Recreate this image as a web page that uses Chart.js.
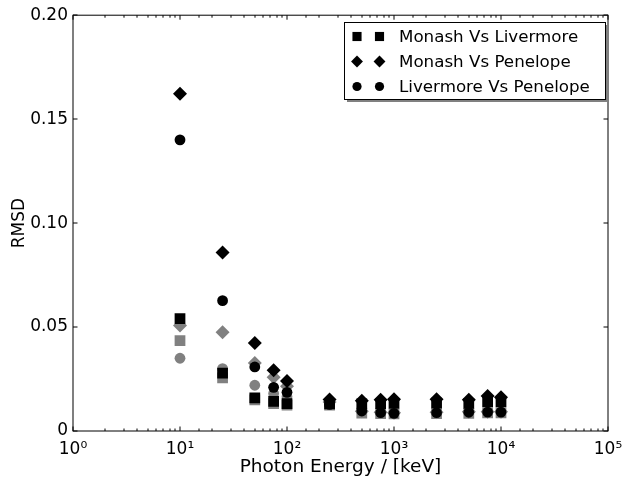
<!DOCTYPE html>
<html>
<head>
<meta charset="utf-8">
<script src="https://cdn.jsdelivr.net/npm/chart.js@4.4.0/dist/chart.umd.min.js"></script>
<style>
  html, body { margin: 0; padding: 0; background: #fff; }
  #wrap { width: 622px; height: 481px; position: relative; }
</style>
</head>
<body>
<div id="wrap"><canvas id="c"></canvas></div>
<script>
// ---- data ------------------------------------------------------------------
const FONT = '"DejaVu Sans", "Bitstream Vera Sans", sans-serif';

const energies = [10, 25, 50, 75, 100, 250, 500, 750, 1000, 2500, 5000, 7500, 10000];

// black markers (shown in legend)
const monashVsLivermore   = [0.0540, 0.0278, 0.0159, 0.0142, 0.0132, 0.0130, 0.0130, 0.0132, 0.0133, 0.0134, 0.0133, 0.0140, 0.0140];
const monashVsPenelope    = [0.1622, 0.0858, 0.0423, 0.0292, 0.0240, 0.0152, 0.0146, 0.0150, 0.0153, 0.0153, 0.0150, 0.0168, 0.0162];
const livermoreVsPenelope = [0.1400, 0.0627, 0.0308, 0.0210, 0.0186, 0.0128, 0.0096, 0.0088, 0.0085, 0.0088, 0.0090, 0.0091, 0.0091];

// gray markers (same comparisons, second set, not in legend)
const monashVsLivermoreGray   = [0.0435, 0.0255, 0.0150, 0.0132, 0.0125, 0.0125, 0.0086, 0.0084, 0.0082, 0.0084, 0.0085, 0.0087, 0.0087];
const monashVsPenelopeGray    = [0.0507, 0.0475, 0.0327, 0.0258, 0.0215, 0.0140, 0.0095, 0.0090, 0.0088, 0.0090, 0.0092, 0.0093, 0.0093];
const livermoreVsPenelopeGray = [0.0350, 0.0300, 0.0220, 0.0180, 0.0165, 0.0130, 0.0092, 0.0087, 0.0085, 0.0087, 0.0088, 0.0090, 0.0090];

const seriesLabels = ['Monash Vs Livermore', 'Monash Vs Penelope', 'Livermore Vs Penelope'];
const xTickLabels  = ['10⁰', '10¹', '10²', '10³', '10⁴', '10⁵'];
const yTickValues  = [0, 0.05, 0.10, 0.15, 0.20];
const yTickLabels  = ['0', '0.05', '0.10', '0.15', '0.20'];

// ---- styles ----------------------------------------------------------------
const BLACK = '#000000';
const GRAY  = 'rgb(128,128,128)';
const STYLES = [
  { style: 'rect',    radius: 7.6 },
  { style: 'rectRot', radius: 7 },
  { style: 'circle',  radius: 5.4 },
];

function pts(ys) { return energies.map((x, i) => ({ x, y: ys[i] })); }

function ds(label, ys, color, k, order) {
  return {
    label, data: pts(ys), showLine: false, order,
    pointStyle: STYLES[k].style, pointRadius: STYLES[k].radius,
    pointBackgroundColor: color, pointBorderColor: color, pointBorderWidth: 0,
    pointHoverRadius: STYLES[k].radius,
  };
}

function drawMarker(ctx, style, r, cx, cy) {
  ctx.beginPath();
  if (style === 'rect') {
    const s = r * Math.SQRT1_2;
    ctx.rect(cx - s, cy - s, 2 * s, 2 * s);
  } else if (style === 'rectRot') {
    ctx.moveTo(cx, cy - r); ctx.lineTo(cx + r, cy);
    ctx.lineTo(cx, cy + r); ctx.lineTo(cx - r, cy);
    ctx.closePath();
  } else {
    ctx.arc(cx, cy, r, 0, Math.PI * 2);
  }
  ctx.fill();
}

function isPow10(v) {
  const e = Math.log10(v);
  return Math.abs(e - Math.round(e)) < 1e-9;
}

// ---- plugins: boxed frame with inward ticks, matplotlib-ish legend ---------
const framePlugin = {
  id: 'frame',
  afterDatasetsDraw(chart) {
    const { ctx, chartArea: a, scales: { x, y } } = chart;
    ctx.save();
    ctx.strokeStyle = '#000';
    ctx.lineWidth = 1;
    ctx.strokeRect(a.left, a.top, a.right - a.left, a.bottom - a.top);
    ctx.beginPath();
    for (const t of x.ticks) {
      const px = Math.round(x.getPixelForValue(t.value));
      const len = isPow10(t.value) ? 4.5 : 2.5;
      ctx.moveTo(px, a.bottom); ctx.lineTo(px, a.bottom - len);
      ctx.moveTo(px, a.top);    ctx.lineTo(px, a.top + len);
    }
    for (const t of y.ticks) {
      const py = Math.round(y.getPixelForValue(t.value));
      ctx.moveTo(a.left, py);  ctx.lineTo(a.left + 4.5, py);
      ctx.moveTo(a.right, py); ctx.lineTo(a.right - 4.5, py);
    }
    ctx.stroke();
    ctx.restore();
  },
};

const legendPlugin = {
  id: 'mplLegend',
  afterDraw(chart) {
    const { ctx } = chart;
    const bx = 344, by = 22, bw = 261, bh = 77;
    ctx.save();
    ctx.fillStyle = 'rgb(128,128,128)';
    ctx.fillRect(bx + 3, by + 3, bw, bh);
    ctx.fillStyle = '#fff';
    ctx.fillRect(bx, by, bw, bh);
    ctx.strokeStyle = '#000';
    ctx.lineWidth = 1;
    ctx.strokeRect(bx + 0.5, by + 0.5, bw, bh);
    ctx.font = '16.7px ' + FONT;
    ctx.textBaseline = 'middle';
    ctx.textAlign = 'left';
    seriesLabels.forEach((lab, i) => {
      const cy = by + 14.5 + i * 25;
      ctx.fillStyle = BLACK;
      const r = STYLES[i].radius * 0.85;
      drawMarker(ctx, STYLES[i].style, r, 357, cy);
      drawMarker(ctx, STYLES[i].style, r, 379.5, cy);
      ctx.fillText(lab, 399, cy + 1);
    });
    ctx.restore();
  },
};

// ---- chart -----------------------------------------------------------------
new Chart(document.getElementById('c'), {
  type: 'scatter',
  data: {
    datasets: [
      ds(seriesLabels[0], monashVsLivermore,   BLACK, 0, 0),
      ds(seriesLabels[1], monashVsPenelope,    BLACK, 1, 0),
      ds(seriesLabels[2], livermoreVsPenelope, BLACK, 2, 0),
      ds(seriesLabels[0] + ' (2)', monashVsLivermoreGray,   GRAY, 0, 1),
      ds(seriesLabels[1] + ' (2)', monashVsPenelopeGray,    GRAY, 1, 1),
      ds(seriesLabels[2] + ' (2)', livermoreVsPenelopeGray, GRAY, 2, 1),
    ],
  },
  options: {
    animation: false,
    responsive: true,
    maintainAspectRatio: false,
    devicePixelRatio: 1,
    plugins: { legend: { display: false }, tooltip: { enabled: false } },
    layout: { padding: { top: 14, right: 14, left: 0, bottom: 0 } },
    scales: {
      x: {
        type: 'logarithmic', min: 1, max: 100000,
        afterFit: (s) => { s.height = 50; s.paddingRight = 0; s.paddingLeft = 0; },
        grid: { display: false, drawTicks: false },
        border: { display: false },
        ticks: {
          autoSkip: false, maxRotation: 0, padding: 8, color: '#000',
          font: { size: 17, family: FONT },
          callback: (v) => isPow10(v) ? xTickLabels[Math.round(Math.log10(v))] : '',
        },
        title: {
          display: true, text: 'Photon Energy / [keV]', color: '#000',
          font: { size: 18.5, family: FONT }, padding: { top: 0, bottom: 3 },
        },
      },
      y: {
        type: 'linear', min: 0, max: 0.2,
        afterFit: (s) => { s.width = 73; },
        afterBuildTicks: (s) => { s.ticks = yTickValues.map(v => ({ value: v })); },
        grid: { display: false, drawTicks: false },
        border: { display: false },
        ticks: {
          padding: 5, color: '#000',
          font: { size: 17, family: FONT },
          callback: (v) => yTickLabels[yTickValues.findIndex(t => Math.abs(t - v) < 1e-9)],
        },
        title: {
          display: true, text: 'RMSD', color: '#000',
          font: { size: 17, family: FONT }, padding: { top: 9, bottom: 0 },
        },
      },
    },
  },
  plugins: [framePlugin, legendPlugin],
});
</script>
</body>
</html>
